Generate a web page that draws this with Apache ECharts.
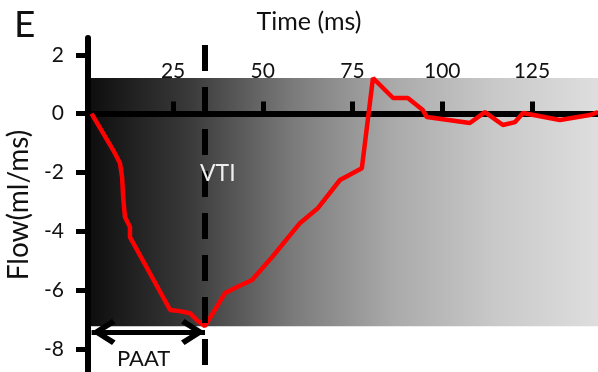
<!DOCTYPE html>
<html>
<head>
<meta charset="utf-8">
<script src="https://cdn.jsdelivr.net/npm/echarts@6/dist/echarts.min.js"></script>
<style>
  html, body { margin: 0; padding: 0; background: #fff; }
  #main { width: 598px; height: 372px; }
</style>
</head>
<body>
<div id="main"></div>
<script>
// 时间 (ms) 和流量 (ml/ms)
var timeMs = [2.3, 8.3, 10.2, 10.8, 11.1, 11.6, 13.0, 13.0, 24.2, 26.9, 29.7, 31.6, 33.9,
    39.5, 42.8, 47.0, 52.6, 60.4, 65.4, 71.5, 77.6, 80.7, 86.3, 90.4, 94.6, 95.7,
    107.7, 111.9, 116.9, 120.3, 122.5, 132.8, 141.1, 143.4];
var flow = [0, -1.24, -1.68, -2.16, -2.84, -3.52, -3.86, -4.2, -6.68, -6.72, -6.79, -7.02, -7.23,
    -6.1, -5.9, -5.66, -4.88, -3.72, -3.21, -2.26, -1.86, 1.21, 0.53, 0.53, 0.12, -0.12,
    -0.32, 0.05, -0.39, -0.29, 0.02, -0.22, -0.05, 0.05];
var xTicks = [25, 50, 75, 100, 125];
var yTicks = [-8, -6, -4, -2, 0, 2];
var xRange = [1.3, 143.4];
var yRange = [-8.79, 2.57];
var dashTop = 2.33;
var arrowFlow = -7.43;

var points = [];
for (var i = 0; i < timeMs.length; i++) {
    points.push([timeMs[i], flow[i]]);
}
//最低点 = PAAT
var minFlow = Math.min.apply(null, flow);
var maxFlow = Math.max.apply(null, flow);
var paat = timeMs[flow.indexOf(minFlow)];

var font = 'Lato, "Open Sans", sans-serif';
var chevron = 'path://M13,0 L26,20 L21.5,23.5 L13,10 L4.5,23.5 L0,20 Z';

var myChart = echarts.init(document.getElementById('main'));
myChart.setOption({
    animation: false,
    title: {
        text: 'E',
        left: 9,
        top: 2,
        textStyle: { fontFamily: font, fontSize: 37, fontWeight: 'normal', color: '#111' }
    },
    grid: { left: 88, right: 0, top: 38, bottom: 0, containLabel: false, outerBoundsMode: 'none' },
    xAxis: {
        type: 'value',
        position: 'top',
        min: xRange[0],
        max: xRange[1],
        z: 2,
        name: 'Time (ms)',
        nameLocation: 'middle',
        nameGap: 4,
        nameTextStyle: { fontFamily: font, fontSize: 25, color: '#111', padding: [0, 68, 0, 0] },
        axisLine: { onZero: true, lineStyle: { color: '#000', width: 6 } },
        axisTick: { customValues: xTicks, length: 12, lineStyle: { color: '#000', width: 5 } },
        axisLabel: { customValues: xTicks, margin: -44, fontFamily: font, fontSize: 21, color: '#111' },
        splitLine: { show: false }
    },
    yAxis: {
        type: 'value',
        min: yRange[0],
        max: yRange[1],
        z: 2,
        name: 'Flow(ml/ms)',
        nameLocation: 'middle',
        nameRotate: 90,
        nameGap: 55,
        nameTextStyle: { fontFamily: font, fontSize: 28, color: '#111' },
        axisLine: { show: true, lineStyle: { color: '#000', width: 6 } },
        axisTick: { customValues: yTicks, length: 12, lineStyle: { color: '#000', width: 5 } },
        axisLabel: { customValues: yTicks, margin: 24, fontFamily: font, fontSize: 21, color: '#111' },
        splitLine: { show: false }
    },
    graphic: [
        {
            type: 'text', left: 200, top: 162, z: 10,
            style: { text: 'VTI', fontFamily: font, fontSize: 23, fill: '#eeeeee' }
        },
        {
            type: 'text', left: 117, top: 348, z: 10,
            style: { text: 'PAAT', fontFamily: font, fontSize: 22, fill: '#111' }
        }
    ],
    series: [
        {
            name: 'flow',
            type: 'line',
            z: 3,
            data: points,
            showSymbol: false,
            lineStyle: { color: '#ff0000', width: 4.5 },
            markArea: {
                silent: true,
                z: 1,
                itemStyle: {
                    color: new echarts.graphic.LinearGradient(0, 0, 1, 0, [
                        { offset: 0, color: '#0d0d0d' },
                        { offset: 0.2, color: '#3a3a3a' },
                        { offset: 0.4, color: '#7a7a7a' },
                        { offset: 0.6, color: '#aaaaaa' },
                        { offset: 0.8, color: '#c9c9c9' },
                        { offset: 1, color: '#dedede' }
                    ])
                },
                data: [[{ yAxis: minFlow }, { yAxis: maxFlow }]]
            },
            markLine: {
                silent: true,
                animation: false,
                label: { show: false },
                data: [
                    [
                        { coord: [paat, dashTop], symbol: 'none',
                          lineStyle: { color: '#000', width: 6, type: [26, 16] } },
                        { coord: [paat, yRange[0]], symbol: 'none' }
                    ],
                    [
                        { coord: [timeMs[0], arrowFlow], symbol: chevron, symbolSize: [26, 24], symbolOffset: [0, 12],
                          lineStyle: { color: '#000', width: 5, type: 'solid' } },
                        { coord: [paat, arrowFlow], symbol: chevron, symbolSize: [26, 24], symbolOffset: [0, 12] }
                    ]
                ]
            }
        }
    ]
});
</script>
</body>
</html>
